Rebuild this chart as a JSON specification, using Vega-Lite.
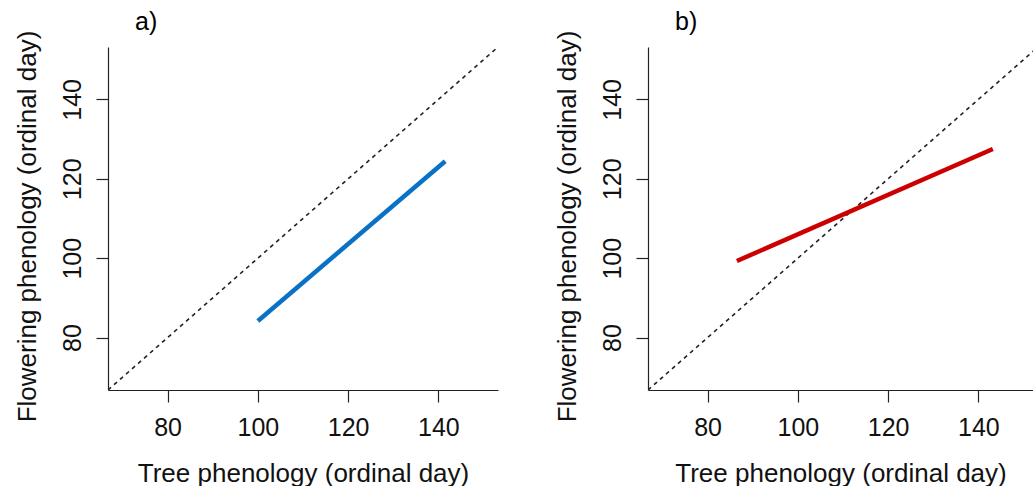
{
  "$schema": "https://vega.github.io/schema/vega-lite/v6.json",
  "padding": {"left": 14, "top": 10, "right": 0, "bottom": 0},
  "background": "white",
  "bounds": "flush",
  "spacing": 150,
  "datasets": {
    "diag": [{"x": 66.8, "y": 66.8}, {"x": 153.2, "y": 153.2}],
    "a": [{"x": 100, "y": 84.2}, {"x": 141.5, "y": 124.4}],
    "b": [{"x": 86.5, "y": 99.3}, {"x": 143.2, "y": 127.5}]
  },
  "hconcat": [
    {
      "title": {"text": "a)", "anchor": "start", "dx": 121, "offset": -25, "baseline": "alphabetic", "fontSize": 25, "fontWeight": "normal", "font": "Liberation Sans", "color": "black"},
      "width": 390,
      "height": 343,
      "layer": [
        {
          "data": {"name": "diag"},
          "mark": {"type": "line", "color": "#222222", "strokeWidth": 1.6, "strokeDash": [4, 4], "clip": true},
          "encoding": {
            "x": {"field": "x", "type": "quantitative", "scale": {"domain": [66.8, 153.2], "nice": false, "zero": false}, "axis": {"title": "Tree phenology (ordinal day)", "values": [80, 100, 120, 140]}},
            "y": {"field": "y", "type": "quantitative", "scale": {"domain": [66.8, 153.2], "nice": false, "zero": false}, "axis": {"title": "Flowering phenology (ordinal day)", "values": [80, 100, 120, 140]}}
          }
        },
        {
          "data": {"name": "a"},
          "mark": {"type": "line", "color": "#0A72C6", "strokeWidth": 4.5, "strokeCap": "butt"},
          "encoding": {
            "x": {"field": "x", "type": "quantitative"},
            "y": {"field": "y", "type": "quantitative"}
          }
        }
      ]
    },
    {
      "title": {"text": "b)", "anchor": "start", "dx": 121, "offset": -25, "baseline": "alphabetic", "fontSize": 25, "fontWeight": "normal", "font": "Liberation Sans", "color": "black"},
      "width": 385,
      "height": 343,
      "layer": [
        {
          "data": {"name": "diag"},
          "mark": {"type": "line", "color": "#222222", "strokeWidth": 1.6, "strokeDash": [4, 4], "clip": true},
          "encoding": {
            "x": {"field": "x", "type": "quantitative", "scale": {"domain": [66.8, 152.1], "nice": false, "zero": false}, "axis": {"title": "Tree phenology (ordinal day)", "values": [80, 100, 120, 140]}},
            "y": {"field": "y", "type": "quantitative", "scale": {"domain": [66.8, 153.2], "nice": false, "zero": false}, "axis": {"title": "Flowering phenology (ordinal day)", "values": [80, 100, 120, 140]}}
          }
        },
        {
          "data": {"name": "b"},
          "mark": {"type": "line", "color": "#CC0000", "strokeWidth": 4.5, "strokeCap": "butt"},
          "encoding": {
            "x": {"field": "x", "type": "quantitative"},
            "y": {"field": "y", "type": "quantitative"}
          }
        }
      ]
    }
  ],
  "config": {
    "view": {"stroke": null},
    "font": "Liberation Sans",
    "axis": {
      "grid": false,
      "domainColor": "#222222",
      "domainWidth": 1.2,
      "tickColor": "#222222",
      "tickWidth": 1.2,
      "tickSize": 12,
      "labelFont": "Liberation Sans",
      "labelFontSize": 25,
      "labelColor": "#111111",
      "titleFont": "Liberation Sans",
      "titleFontSize": 26,
      "titleFontWeight": "normal",
      "titleColor": "#111111"
    },
    "axisX": {"labelPadding": 13, "titlePadding": 20},
    "axisY": {"labelAngle": -90, "labelAlign": "center", "labelBaseline": "alphabetic", "labelPadding": 16, "titlePadding": 20, "titleY": 179, "titleAngle": -90, "titleAlign": "center", "titleBaseline": "bottom"}
  }
}
